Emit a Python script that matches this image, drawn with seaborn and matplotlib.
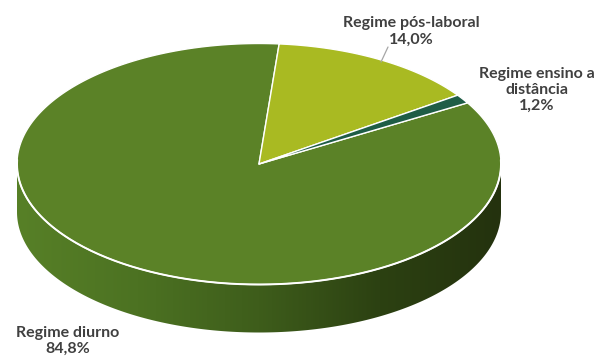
import numpy as np
import matplotlib
matplotlib.use("Agg")
import matplotlib.pyplot as plt
from matplotlib.patches import Polygon
import seaborn as sns

# Distribution of students by study regime
categories = ["Regime diurno", "Regime pós-laboral", "Regime ensino a\ndistância"]
shares = [84.8, 14.0, 1.2]
top_colors = ["#5b8227", "#a9ba22", "#1f5d46"]
# side shading stops (left to right) for each slice
side_stops = [
    ["#578027", "#4c7222", "#3e5d1b", "#2c4112", "#24320e"],
    ["#a4b620", "#93a31c", "#7c8a17", "#646f12", "#505a0e"],
    ["#1f5d46", "#1a503c", "#154331", "#103527", "#0c2a1f"],
]
label_pos = [(68, 341), (411, 31.5), (537, 90)]

sns.set_theme(style="white")
plt.rcParams["font.family"] = ["Lato", "DejaVu Sans"]

fig = plt.figure(figsize=(6.08, 3.58), dpi=100)
ax = fig.add_axes([0, 0, 1, 1])
ax.set_xlim(0, 608)
ax.set_ylim(358, 0)
ax.axis("off")

cx, cy, rx, ry, depth = 259, 164, 242, 120.5, 48
first_angle = 59.5  # degrees, clockwise from 12 o'clock


def ellipse_xy(theta_deg):
    th = np.radians(theta_deg)
    return cx + rx * np.sin(th), cy - ry * np.cos(th)


total = sum(shares)
starts = first_angle + 360 * np.concatenate([[0], np.cumsum(shares)[:-1]]) / total
ends = starts + 360 * np.array(shares) / total

# visible side wall (front half: 90..270 degrees), shaded left to right
for i, (a0, a1) in enumerate(zip(starts, ends)):
    pal = np.array(sns.blend_palette(side_stops[i], n_colors=256, as_cmap=False))
    for off in (0, 360):
        lo, hi = max(a0, 90 + off), min(a1, 270 + off)
        if hi <= lo:
            continue
        th = np.linspace(lo, hi, 400)
        xs, ys = ellipse_xy(th)
        outline = list(zip(xs, ys)) + list(zip(xs[::-1], ys[::-1] + depth))
        wall = Polygon(outline, closed=True, facecolor="none", edgecolor="none")
        ax.add_patch(wall)
        grad = pal[:, :3][np.newaxis, :, :]
        img = ax.imshow(grad, extent=(cx - rx, cx + rx, cy + ry + depth + 2, cy - 2),
                        aspect="auto", interpolation="bilinear", zorder=1)
        img.set_clip_path(wall)

# top faces
for i, (a0, a1) in enumerate(zip(starts, ends)):
    th = np.linspace(a0, a1, 400)
    xs, ys = ellipse_xy(th)
    pts = [(cx, cy)] + list(zip(xs, ys))
    ax.add_patch(Polygon(pts, closed=True, facecolor=top_colors[i], zorder=2,
                         edgecolor="white", linewidth=1.0, joinstyle="round"))

# highlight along the front rim
th = np.linspace(88, 272, 300)
xs, ys = ellipse_xy(th)
ax.plot(xs, ys, color="white", lw=1.4, solid_capstyle="round", zorder=3)

ax.set_xlim(0, 608)
ax.set_ylim(358, 0)

# labels
for name, v, (lx, ly) in zip(categories, shares, label_pos):
    txt = f"{name}\n{v:.1f}".replace(".", ",") + "%"
    ax.text(lx, ly, txt, ha="center", va="center", fontsize=11.5,
            fontweight="bold", color="#404040", linespacing=1.2, zorder=4)

# leader line for the second slice
ax.plot([381, 388], [62, 47], color="#a6a6a6", lw=0.9, zorder=3)

fig.savefig("out.png", dpi=100)
